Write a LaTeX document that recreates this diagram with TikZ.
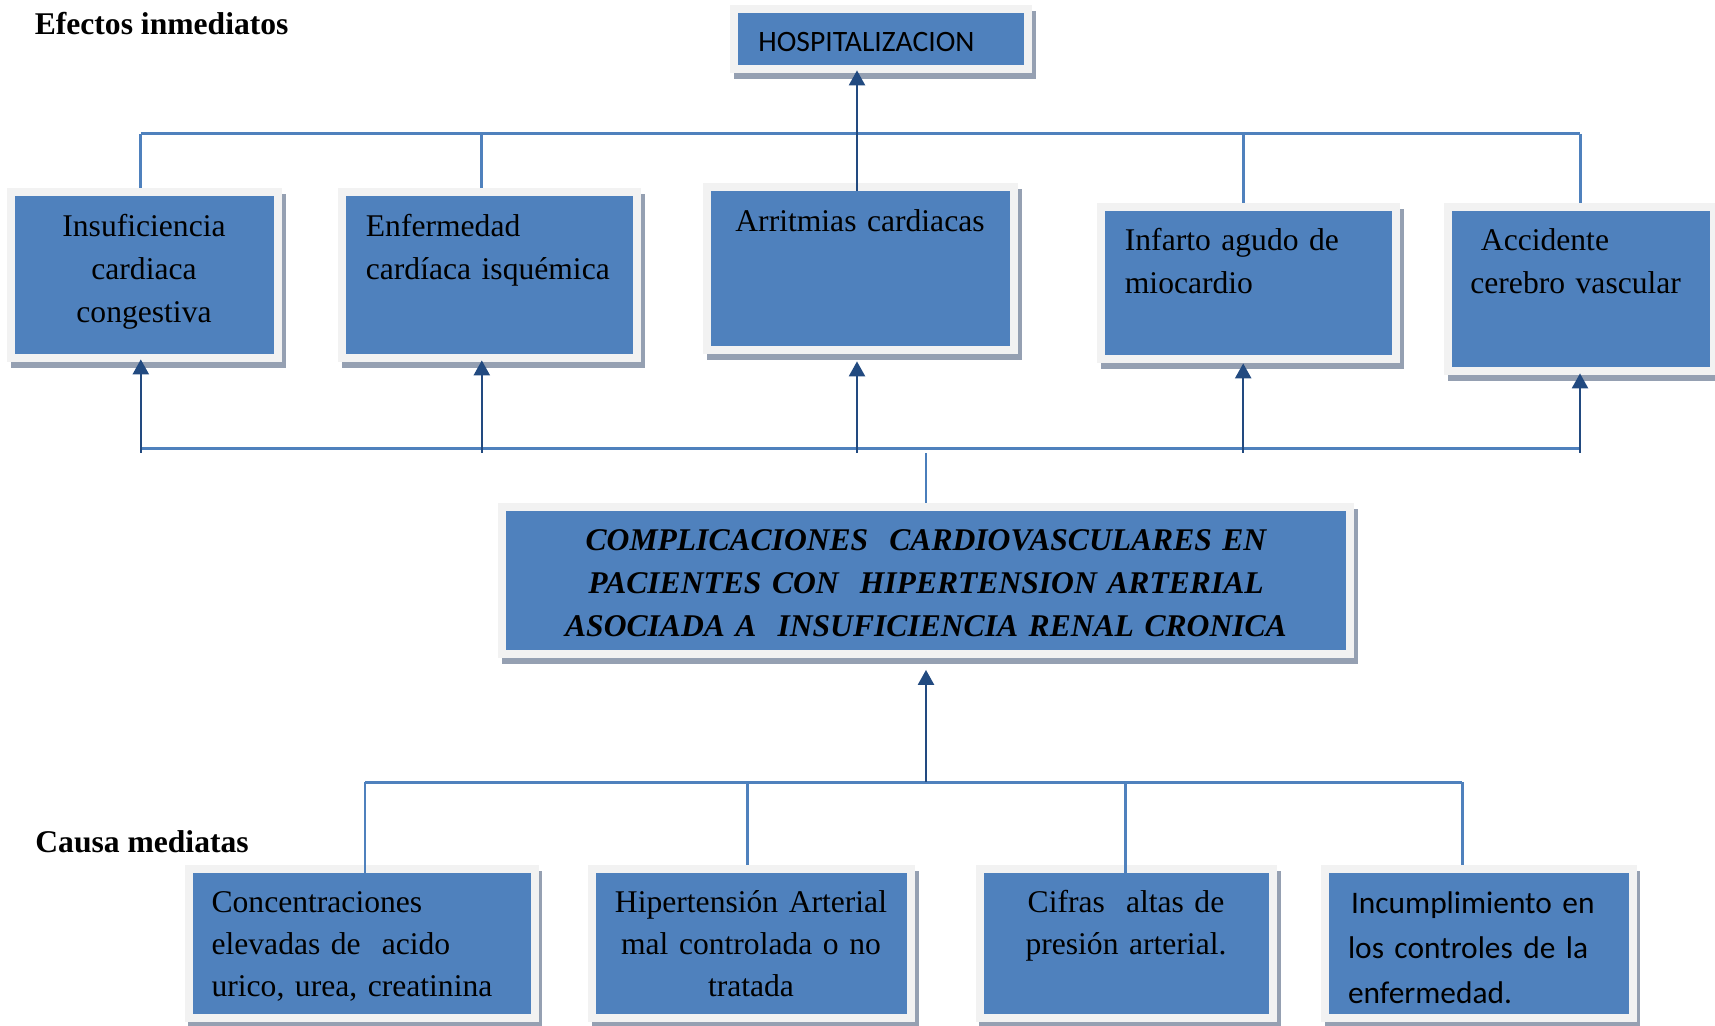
\documentclass[tikz,border=0pt]{standalone}
\usepackage{fontspec}
\setmainfont{Liberation Serif}
\newfontfamily\calib{Carlito}
\usetikzlibrary{arrows.meta,shadows,calc}
\definecolor{boxblue}{RGB}{79,129,189}
\definecolor{framegray}{RGB}{242,242,242}
\definecolor{shadowgray}{RGB}{149,160,178}
\definecolor{buscol}{RGB}{79,129,189}
\definecolor{arrcol}{RGB}{34,74,128}
\definecolor{stubcol}{RGB}{74,126,187}
\begin{document}
\begin{tikzpicture}[x=0.5pt,y=-0.5pt,
  blk/.style={rectangle, inner sep=0, fill=framegray, draw=none,
    general shadow={fill=shadowgray, shadow xshift=1.75pt, shadow yshift=-3pt},
    path picture={\fill[boxblue] ([shift={(4pt,-4pt)}]path picture bounding box.north west) rectangle ([shift={(-4pt,4pt)}]path picture bounding box.south east);}},
  tfont/.style={font=\fontsize{15.8}{21.4}\selectfont},
  tc/.style={tfont, inner sep=0, align=center, anchor=base},
  tl/.style={tfont, inner sep=0, align=left, anchor=base west},
  bus/.style={draw=buscol, line width=1.5pt},
  thin bus/.style={draw=buscol, line width=1pt},
  arr/.style={draw=arrcol, line width=1.2pt, -{Triangle[width=8pt,length=7.5pt]}},
  stub/.style={draw=stubcol, line width=1.2pt},
  lbl/.style={font=\fontsize{15.8}{21}\selectfont\bfseries, inner sep=0, anchor=base west}
]
\useasboundingbox (0,0) rectangle (1715,1026);

% labels
\node[lbl] (efectos) at (34.4,34.3) {Efectos inmediatos};
\node[lbl] (causa) at (35,852) {Causa mediatas};

% boxes
\node[blk, minimum width=151pt, minimum height=34pt] (hosp) at (881,39) {};
\node[blk, minimum width=137.5pt, minimum height=87pt] (b1) at (144.5,275) {};
\node[blk, minimum width=151.5pt, minimum height=87pt] (b2) at (489.5,275) {};
\node[blk, minimum width=157.5pt, minimum height=85.5pt] (b3) at (860.5,268.5) {};
\node[blk, minimum width=151.5pt, minimum height=80pt] (b4) at (1248.5,283) {};
\node[blk, minimum width=137pt, minimum height=86pt] (b5) at (1581,289) {};
\node[blk, minimum width=428pt, minimum height=77.5pt] (main) at (926,580.5) {};
\node[blk, minimum width=177pt, minimum height=78.5pt] (ca) at (361.5,943.5) {};
\node[blk, minimum width=163.5pt, minimum height=78.5pt] (cb) at (751.5,943.5) {};
\node[blk, minimum width=150.75pt, minimum height=78.5pt] (cc) at (1126.25,943.5) {};
\node[blk, minimum width=157.75pt, minimum height=78.5pt] (cd) at (1478.75,943.5) {};

% texts
\node[inner sep=0, anchor=base west, font=\calib\fontsize{14.8}{18}\selectfont] (thosp) at (758,51.7) {HOSPITALIZACION};
\node[tc, text width=125pt] (t1) at (144,236.5) {Insuficiencia\\cardiaca\\congestiva};
\node[tl, text width=135pt] (t2) at (365.5,236.5) {Enfermedad\\cardíaca isquémica};
\node[tc, text width=150pt] (t3) at (860,232) {Arritmias cardiacas};
\node[tl, text width=135pt] (t4) at (1124.5,251) {Infarto agudo de\\miocardio};
\node[tl, text width=125pt] (t5) at (1470,251) {\ Accidente\\cerebro vascular};
\node[tc, text width=420pt, font=\fontsize{15.8}{21.3}\selectfont\bfseries\itshape] (tmain) at (926,551) {COMPLICACIONES\ \ CARDIOVASCULARES EN\\PACIENTES CON\ \ HIPERTENSION ARTERIAL\\ASOCIADA A\ \ INSUFICIENCIA RENAL CRONICA};
\node[tl, text width=160pt, font=\fontsize{15.8}{21}\selectfont] (ta) at (211.2,912.5) {Concentraciones\\elevadas de\ \ acido\\urico, urea, creatinina};
\node[tc, text width=155pt, font=\fontsize{15.8}{21}\selectfont] (tb) at (751,912.5) {Hipertensión Arterial\\mal controlada o no\\tratada};
\node[tc, text width=145pt, font=\fontsize{15.8}{21}\selectfont] (tcc) at (1126,912.5) {Cifras\ \ altas de\\presión arterial.};
\node[tl, text width=140pt, font=\calib\fontsize{15.7}{22.5}\selectfont] (td) at (1347.6,913.5) {\hspace*{1.5pt}Incumplimiento en\\los controles de la\\enfermedad.};

% bus coordinates
\coordinate (tb1) at (140.8,134);
\coordinate (tb2) at (481.8,134);
\coordinate (tb3) at (857,134);
\coordinate (tb4) at (1243.2,134);
\coordinate (tb5) at (1580,134);
\coordinate (mb1) at (140.8,449);
\coordinate (mb2) at (481.8,449);
\coordinate (mb3) at (857,449);
\coordinate (mbm) at (926,449);
\coordinate (mb4) at (1243.2,449);
\coordinate (mb5) at (1580,449);
\coordinate (lb1) at (365.3,782);
\coordinate (lb2) at (747.3,782);
\coordinate (lbm) at (926,782);
\coordinate (lb3) at (1125.1,782);
\coordinate (lb4) at (1462.2,782);

% top bus
\draw[bus] (tb1) -- (tb5);
\draw[bus] (tb1) -- (tb1 |- b1.north);
\draw[bus] (tb2) -- (tb2 |- b2.north);
\draw[bus] (tb4) -- (tb4 |- b4.north);
\draw[bus] (tb5) -- (tb5 |- b5.north);
\draw[arr] ($(tb3 |- b3.north)+(0,8)$) -- ($(tb3 |- hosp.south)+(0,-3)$);

% middle bus
\draw[bus] (mb1) -- (mb5);
\draw[arr] ($(mb1)+(0,4)$) -- ($(mb1 |- b1.south)+(0,-3)$);
\draw[arr] ($(mb2)+(0,4)$) -- ($(mb2 |- b2.south)+(0,-2)$);
\draw[arr] ($(mb3)+(0,4)$) -- ($(mb3 |- b3.south)+(0,7)$);
\draw[arr] ($(mb4)+(0,4)$) -- (mb4 |- b4.south);
\draw[arr] ($(mb5)+(0,4)$) -- ($(mb5 |- b5.south)+(0,-2)$);
\draw[stub] (main.north) -- ($(mbm)+(0,4)$);

% lower bus
\draw[bus] (lb1) -- (lb4);
\draw[arr] (lbm) -- ($(main.south)+(0,11.5)$);
\draw[thin bus] (lb1) -- ($(lb1 |- ca.north)+(0,8)$);
\draw[bus] (lb2) -- (lb2 |- cb.north);
\draw[bus] (lb3) -- ($(lb3 |- cc.north)+(0,8)$);
\draw[bus] (lb4) -- (lb4 |- cd.north);
\end{tikzpicture}
\end{document}
